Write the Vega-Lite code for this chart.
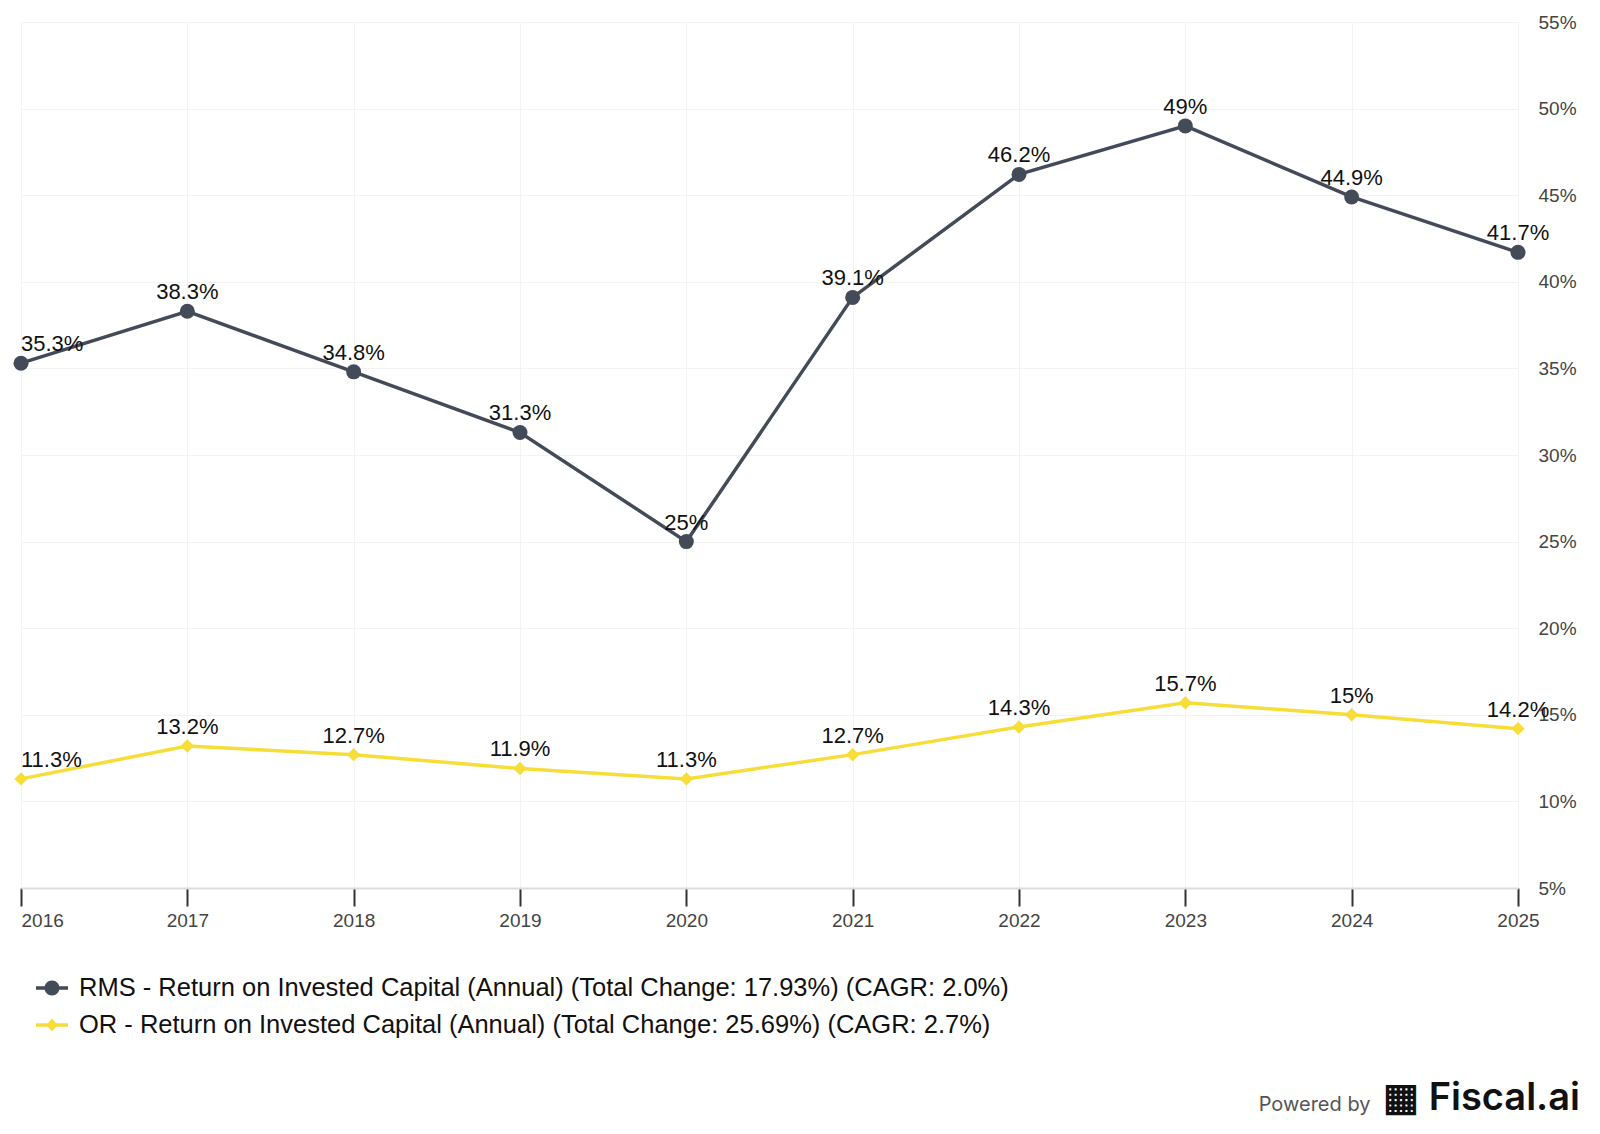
{
  "$schema": "https://vega.github.io/schema/vega-lite/v6.json",
  "autosize": {"type": "none"},
  "width": 1497,
  "height": 866,
  "padding": {"left": 21, "top": 22, "right": 82, "bottom": 246},
  "background": "#ffffff",
  "config": {
    "view": {"stroke": null},
    "font": "Liberation Sans"
  },
  "data": {
    "values": [
      {"year": 2016, "series": "RMS - Return on Invested Capital (Annual) (Total Change: 17.93%) (CAGR: 2.0%)", "value": 35.3, "label": "35.3%"},
      {"year": 2017, "series": "RMS - Return on Invested Capital (Annual) (Total Change: 17.93%) (CAGR: 2.0%)", "value": 38.3, "label": "38.3%"},
      {"year": 2018, "series": "RMS - Return on Invested Capital (Annual) (Total Change: 17.93%) (CAGR: 2.0%)", "value": 34.8, "label": "34.8%"},
      {"year": 2019, "series": "RMS - Return on Invested Capital (Annual) (Total Change: 17.93%) (CAGR: 2.0%)", "value": 31.3, "label": "31.3%"},
      {"year": 2020, "series": "RMS - Return on Invested Capital (Annual) (Total Change: 17.93%) (CAGR: 2.0%)", "value": 25.0, "label": "25%"},
      {"year": 2021, "series": "RMS - Return on Invested Capital (Annual) (Total Change: 17.93%) (CAGR: 2.0%)", "value": 39.1, "label": "39.1%"},
      {"year": 2022, "series": "RMS - Return on Invested Capital (Annual) (Total Change: 17.93%) (CAGR: 2.0%)", "value": 46.2, "label": "46.2%"},
      {"year": 2023, "series": "RMS - Return on Invested Capital (Annual) (Total Change: 17.93%) (CAGR: 2.0%)", "value": 49.0, "label": "49%"},
      {"year": 2024, "series": "RMS - Return on Invested Capital (Annual) (Total Change: 17.93%) (CAGR: 2.0%)", "value": 44.9, "label": "44.9%"},
      {"year": 2025, "series": "RMS - Return on Invested Capital (Annual) (Total Change: 17.93%) (CAGR: 2.0%)", "value": 41.7, "label": "41.7%"},
      {"year": 2016, "series": "OR - Return on Invested Capital (Annual) (Total Change: 25.69%) (CAGR: 2.7%)", "value": 11.3, "label": "11.3%"},
      {"year": 2017, "series": "OR - Return on Invested Capital (Annual) (Total Change: 25.69%) (CAGR: 2.7%)", "value": 13.2, "label": "13.2%"},
      {"year": 2018, "series": "OR - Return on Invested Capital (Annual) (Total Change: 25.69%) (CAGR: 2.7%)", "value": 12.7, "label": "12.7%"},
      {"year": 2019, "series": "OR - Return on Invested Capital (Annual) (Total Change: 25.69%) (CAGR: 2.7%)", "value": 11.9, "label": "11.9%"},
      {"year": 2020, "series": "OR - Return on Invested Capital (Annual) (Total Change: 25.69%) (CAGR: 2.7%)", "value": 11.3, "label": "11.3%"},
      {"year": 2021, "series": "OR - Return on Invested Capital (Annual) (Total Change: 25.69%) (CAGR: 2.7%)", "value": 12.7, "label": "12.7%"},
      {"year": 2022, "series": "OR - Return on Invested Capital (Annual) (Total Change: 25.69%) (CAGR: 2.7%)", "value": 14.3, "label": "14.3%"},
      {"year": 2023, "series": "OR - Return on Invested Capital (Annual) (Total Change: 25.69%) (CAGR: 2.7%)", "value": 15.7, "label": "15.7%"},
      {"year": 2024, "series": "OR - Return on Invested Capital (Annual) (Total Change: 25.69%) (CAGR: 2.7%)", "value": 15.0, "label": "15%"},
      {"year": 2025, "series": "OR - Return on Invested Capital (Annual) (Total Change: 25.69%) (CAGR: 2.7%)", "value": 14.2, "label": "14.2%"}
    ]
  },
  "title": {
    "text": "▦ Fiscal.ai",
    "orient": "bottom",
    "anchor": "end",
    "frame": "group",
    "offset": -34,
    "dx": 62,
    "font": "Inter",
    "fontSize": 38,
    "fontWeight": 600,
    "color": "#111111"
  },
  "encoding": {
    "x": {
      "field": "year",
      "type": "ordinal",
      "scale": {"type": "point", "padding": 0},
      "axis": {
        "title": "Powered by",
        "titleFont": "Inter",
        "titleFontSize": 20,
        "titleFontWeight": "normal",
        "titleColor": "#555555",
        "titleAlign": "right",
        "titleAnchor": "end",
        "titleBaseline": "alphabetic",
        "titleX": 1349,
        "titleY": 222,
        "labelAngle": 0,
        "grid": true,
        "gridColor": "#f3f3f3",
        "gridWidth": 1,
        "domainColor": "#dddddd",
        "domainWidth": 2,
        "tickColor": "#333333",
        "tickWidth": 2,
        "tickSize": 18,
        "labelFontSize": 19,
        "labelColor": "#444444",
        "labelPadding": 5,
        "labelAlign": {"condition": {"test": "datum.value == 2016", "value": "left"}, "value": "center"}
      }
    },
    "y": {
      "field": "value",
      "type": "quantitative",
      "scale": {"domain": [5, 55], "nice": false, "zero": false},
      "axis": {
        "title": null,
        "orient": "right",
        "values": [5, 10, 15, 20, 25, 30, 35, 40, 45, 50, 55],
        "labelExpr": "datum.value + '%'",
        "grid": true,
        "gridColor": "#f3f3f3",
        "domain": false,
        "ticks": false,
        "labelPadding": 20,
        "labelFontSize": 19,
        "labelColor": "#444444",
        "labelAlign": "left"
      }
    },
    "color": {
      "field": "series",
      "type": "nominal",
      "scale": {
        "domain": [
          "RMS - Return on Invested Capital (Annual) (Total Change: 17.93%) (CAGR: 2.0%)",
          "OR - Return on Invested Capital (Annual) (Total Change: 25.69%) (CAGR: 2.7%)"
        ],
        "range": ["#434b59", "#f7dd38"]
      },
      "legend": {
        "title": null,
        "orient": "none",
        "legendX": 15,
        "legendY": 950,
        "direction": "vertical",
        "padding": 0,
        "symbolSize": 1024,
        "symbolStrokeWidth": 0,
        "labelFontSize": 25.5,
        "labelColor": "#111111",
        "labelOffset": 11,
        "labelLimit": 1400,
        "rowPadding": 7,
        "encode": {
          "symbols": {
            "update": {
              "shape": {"signal": "indexof(datum.value, 'RMS') == 0 ? 'M-1,-0.11H1V0.11H-1Z M0.47,0A0.47,0.47,0,1,1,-0.47,0A0.47,0.47,0,1,1,0.47,0Z' : 'M-1,-0.11H1V0.11H-1Z M0,-0.4L0.36,0L0,0.4L-0.36,0Z'"},
              "size": {"value": 1024},
              "fill": {"scale": "color", "field": "value"},
              "strokeWidth": {"value": 0},
              "opacity": {"value": 1}
            }
          }
        }
      }
    }
  },
  "layer": [
    {
      "mark": {"type": "line", "strokeWidth": 3.5},
      "encoding": {}
    },
    {
      "transform": [{"filter": "indexof(datum.series, 'RMS') == 0"}],
      "mark": {"type": "point", "filled": true, "opacity": 1, "shape": "circle", "size": 225},
      "encoding": {}
    },
    {
      "transform": [{"filter": "indexof(datum.series, 'OR') == 0"}],
      "mark": {"type": "point", "filled": true, "opacity": 1, "shape": "diamond", "size": 180},
      "encoding": {}
    },
    {
      "transform": [{"filter": "datum.year != 2016"}],
      "mark": {"type": "text", "align": "center", "baseline": "alphabetic", "dy": -12, "fontSize": 22, "color": "#111111"},
      "encoding": {
        "text": {"field": "label"},
        "color": {"value": "#111111"}
      }
    },
    {
      "transform": [{"filter": "datum.year == 2016"}],
      "mark": {"type": "text", "align": "left", "baseline": "alphabetic", "dy": -12, "fontSize": 22, "color": "#111111"},
      "encoding": {
        "text": {"field": "label"},
        "color": {"value": "#111111"}
      }
    }
  ]
}
